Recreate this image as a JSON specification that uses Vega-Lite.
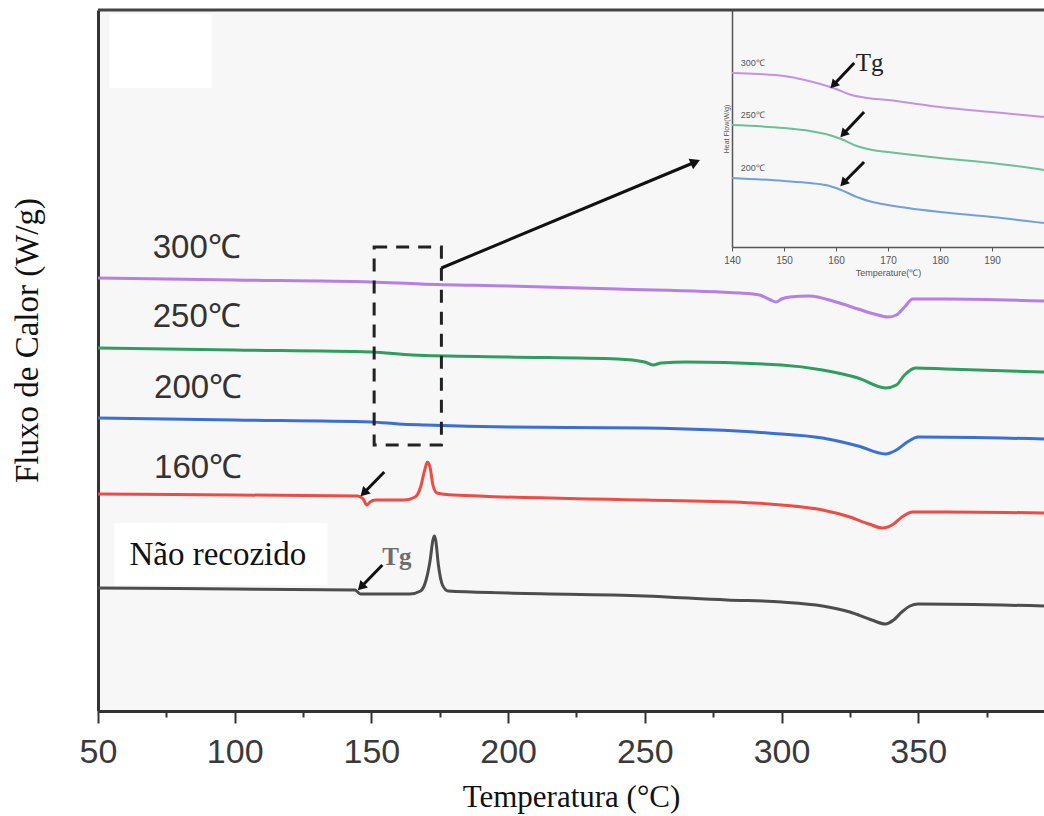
{
  "$schema": "https://vega.github.io/schema/vega-lite/v6.json",
  "width": 946,
  "height": 701,
  "autosize": {"type": "none"},
  "padding": {"left": 98, "top": 10, "right": 0, "bottom": 105},
  "background": "white",
  "config": {"view": {"stroke": null, "fill": "#f7f7f7"}},
  "datasets": {
    "main": [
      {"T": 50, "v": 1.23, "s": "Não recozido"}, {"T": 100, "v": 1.22, "s": "Não recozido"}, {"T": 144, "v": 1.21, "s": "Não recozido"},
      {"T": 146, "v": 1.17, "s": "Não recozido"}, {"T": 150, "v": 1.17, "s": "Não recozido"}, {"T": 164, "v": 1.17, "s": "Não recozido"},
      {"T": 168, "v": 1.2, "s": "Não recozido"}, {"T": 170, "v": 1.31, "s": "Não recozido"}, {"T": 171.5, "v": 1.51, "s": "Não recozido"},
      {"T": 172.5, "v": 1.71, "s": "Não recozido"}, {"T": 173, "v": 1.75, "s": "Não recozido"}, {"T": 173.5, "v": 1.71, "s": "Não recozido"},
      {"T": 174.5, "v": 1.46, "s": "Não recozido"}, {"T": 176, "v": 1.26, "s": "Não recozido"}, {"T": 178, "v": 1.2, "s": "Não recozido"},
      {"T": 200, "v": 1.18, "s": "Não recozido"}, {"T": 250, "v": 1.15, "s": "Não recozido"}, {"T": 280, "v": 1.11, "s": "Não recozido"},
      {"T": 300, "v": 1.09, "s": "Não recozido"}, {"T": 315, "v": 1.05, "s": "Não recozido"}, {"T": 325, "v": 0.99, "s": "Não recozido"},
      {"T": 333, "v": 0.91, "s": "Não recozido"}, {"T": 338, "v": 0.87, "s": "Não recozido"}, {"T": 341, "v": 0.91, "s": "Não recozido"},
      {"T": 344, "v": 0.99, "s": "Não recozido"}, {"T": 347, "v": 1.05, "s": "Não recozido"}, {"T": 350, "v": 1.07, "s": "Não recozido"},
      {"T": 396, "v": 1.05, "s": "Não recozido"},
      {"T": 50, "v": 2.17, "s": "160℃"}, {"T": 100, "v": 2.16, "s": "160℃"}, {"T": 145, "v": 2.15, "s": "160℃"},
      {"T": 147, "v": 2.12, "s": "160℃"}, {"T": 148.3, "v": 2.06, "s": "160℃"}, {"T": 149.5, "v": 2.09, "s": "160℃"},
      {"T": 151.5, "v": 2.11, "s": "160℃"}, {"T": 162, "v": 2.11, "s": "160℃"}, {"T": 166, "v": 2.14, "s": "160℃"},
      {"T": 168, "v": 2.24, "s": "160℃"}, {"T": 169.5, "v": 2.41, "s": "160℃"}, {"T": 170.5, "v": 2.49, "s": "160℃"},
      {"T": 171.5, "v": 2.43, "s": "160℃"}, {"T": 172.5, "v": 2.26, "s": "160℃"}, {"T": 174, "v": 2.18, "s": "160℃"},
      {"T": 180, "v": 2.16, "s": "160℃"}, {"T": 250, "v": 2.11, "s": "160℃"}, {"T": 290, "v": 2.08, "s": "160℃"},
      {"T": 300, "v": 2.06, "s": "160℃"}, {"T": 315, "v": 2.01, "s": "160℃"}, {"T": 325, "v": 1.94, "s": "160℃"},
      {"T": 332, "v": 1.87, "s": "160℃"}, {"T": 337, "v": 1.83, "s": "160℃"}, {"T": 341, "v": 1.87, "s": "160℃"},
      {"T": 344, "v": 1.94, "s": "160℃"}, {"T": 348, "v": 1.99, "s": "160℃"}, {"T": 360, "v": 1.99, "s": "160℃"},
      {"T": 396, "v": 1.98, "s": "160℃"},
      {"T": 50, "v": 2.93, "s": "200℃"}, {"T": 100, "v": 2.91, "s": "200℃"}, {"T": 150, "v": 2.89, "s": "200℃"},
      {"T": 160, "v": 2.87, "s": "200℃"}, {"T": 170, "v": 2.86, "s": "200℃"}, {"T": 200, "v": 2.84, "s": "200℃"},
      {"T": 250, "v": 2.83, "s": "200℃"}, {"T": 295, "v": 2.78, "s": "200℃"}, {"T": 315, "v": 2.73, "s": "200℃"},
      {"T": 328, "v": 2.65, "s": "200℃"}, {"T": 338, "v": 2.57, "s": "200℃"}, {"T": 342, "v": 2.61, "s": "200℃"},
      {"T": 346, "v": 2.69, "s": "200℃"}, {"T": 350, "v": 2.74, "s": "200℃"}, {"T": 396, "v": 2.72, "s": "200℃"},
      {"T": 50, "v": 3.63, "s": "250℃"}, {"T": 100, "v": 3.61, "s": "250℃"}, {"T": 150, "v": 3.59, "s": "250℃"},
      {"T": 165, "v": 3.56, "s": "250℃"}, {"T": 200, "v": 3.54, "s": "250℃"}, {"T": 240, "v": 3.52, "s": "250℃"},
      {"T": 250, "v": 3.49, "s": "250℃"}, {"T": 253, "v": 3.46, "s": "250℃"}, {"T": 256, "v": 3.48, "s": "250℃"},
      {"T": 265, "v": 3.49, "s": "250℃"}, {"T": 300, "v": 3.46, "s": "250℃"}, {"T": 315, "v": 3.41, "s": "250℃"},
      {"T": 328, "v": 3.33, "s": "250℃"}, {"T": 338, "v": 3.23, "s": "250℃"}, {"T": 342, "v": 3.26, "s": "250℃"},
      {"T": 345, "v": 3.36, "s": "250℃"}, {"T": 349, "v": 3.43, "s": "250℃"}, {"T": 360, "v": 3.42, "s": "250℃"},
      {"T": 396, "v": 3.39, "s": "250℃"},
      {"T": 50, "v": 4.33, "s": "300℃"}, {"T": 100, "v": 4.31, "s": "300℃"}, {"T": 150, "v": 4.29, "s": "300℃"},
      {"T": 168, "v": 4.27, "s": "300℃"}, {"T": 200, "v": 4.25, "s": "300℃"}, {"T": 240, "v": 4.22, "s": "300℃"},
      {"T": 285, "v": 4.18, "s": "300℃"}, {"T": 292, "v": 4.16, "s": "300℃"}, {"T": 296, "v": 4.11, "s": "300℃"},
      {"T": 298, "v": 4.09, "s": "300℃"}, {"T": 300, "v": 4.12, "s": "300℃"}, {"T": 303, "v": 4.14, "s": "300℃"},
      {"T": 310, "v": 4.15, "s": "300℃"}, {"T": 320, "v": 4.09, "s": "300℃"}, {"T": 328, "v": 4.02, "s": "300℃"},
      {"T": 334, "v": 3.97, "s": "300℃"}, {"T": 339, "v": 3.94, "s": "300℃"}, {"T": 342, "v": 3.96, "s": "300℃"},
      {"T": 345, "v": 4.04, "s": "300℃"}, {"T": 348, "v": 4.12, "s": "300℃"}, {"T": 360, "v": 4.12, "s": "300℃"},
      {"T": 396, "v": 4.1, "s": "300℃"}
    ],
    "inset": [
      {"T": 140, "v": 1.74, "s": "300℃"}, {"T": 145, "v": 1.73, "s": "300℃"}, {"T": 150, "v": 1.71, "s": "300℃"},
      {"T": 154, "v": 1.67, "s": "300℃"}, {"T": 157, "v": 1.63, "s": "300℃"}, {"T": 160, "v": 1.58, "s": "300℃"},
      {"T": 163, "v": 1.52, "s": "300℃"}, {"T": 166, "v": 1.49, "s": "300℃"}, {"T": 170, "v": 1.47, "s": "300℃"},
      {"T": 180, "v": 1.4, "s": "300℃"}, {"T": 190, "v": 1.35, "s": "300℃"}, {"T": 200, "v": 1.3, "s": "300℃"},
      {"T": 140, "v": 1.22, "s": "250℃"}, {"T": 150, "v": 1.19, "s": "250℃"}, {"T": 155, "v": 1.16, "s": "250℃"},
      {"T": 158, "v": 1.13, "s": "250℃"}, {"T": 161, "v": 1.08, "s": "250℃"}, {"T": 164, "v": 1.01, "s": "250℃"},
      {"T": 167, "v": 0.97, "s": "250℃"}, {"T": 170, "v": 0.95, "s": "250℃"}, {"T": 180, "v": 0.89, "s": "250℃"},
      {"T": 190, "v": 0.84, "s": "250℃"}, {"T": 200, "v": 0.77, "s": "250℃"},
      {"T": 140, "v": 0.69, "s": "200℃"}, {"T": 150, "v": 0.66, "s": "200℃"}, {"T": 155, "v": 0.64, "s": "200℃"},
      {"T": 158, "v": 0.62, "s": "200℃"}, {"T": 161, "v": 0.57, "s": "200℃"}, {"T": 164, "v": 0.5, "s": "200℃"},
      {"T": 167, "v": 0.45, "s": "200℃"}, {"T": 170, "v": 0.42, "s": "200℃"}, {"T": 180, "v": 0.35, "s": "200℃"},
      {"T": 190, "v": 0.3, "s": "200℃"}, {"T": 200, "v": 0.24, "s": "200℃"}
    ],
    "mainLabels": [
      {"T": 70, "v": 4.63, "text": "300℃"},
      {"T": 70, "v": 3.94, "text": "250℃"},
      {"T": 70.5, "v": 3.23, "text": "200℃"},
      {"T": 70.5, "v": 2.43, "text": "160℃"}
    ],
    "whiteBoxes": [
      {"T": 56, "T2": 133.9, "v": 1.88, "v2": 1.26},
      {"T": 54.2, "T2": 91.6, "v": 6.97, "v2": 6.23}
    ],
    "zoomBox": [{"T": 151, "T2": 175.6, "v": 4.64, "v2": 2.66}],
    "mainArrows": [
      {"kind": "tg", "T": 154.0, "v": 1.46, "T2": 146.2, "v2": 1.24},
      {"kind": "tg", "T": 154.7, "v": 2.39, "T2": 147.2, "v2": 2.18},
      {"kind": "zoom", "T": 175.6, "v": 4.43, "T2": 268.5, "v2": 5.49}
    ],
    "insetLabels": [
      {"T": 141.7, "v": 1.84, "text": "300℃"},
      {"T": 141.7, "v": 1.32, "text": "250℃"},
      {"T": 141.7, "v": 0.79, "text": "200℃"}
    ],
    "insetArrows": [
      {"T": 163.5, "v": 1.84, "T2": 159.5, "v2": 1.62},
      {"T": 165.4, "v": 1.35, "T2": 161.4, "v2": 1.13},
      {"T": 165.4, "v": 0.85, "T2": 161.4, "v2": 0.64}
    ]
  },
  "resolve": {"scale": {"x": "independent", "y": "independent", "color": "independent"}},
  "layer": [
    {
      "layer": [
        {
          "data": {"name": "whiteBoxes"},
          "mark": {"type": "rect", "fill": "white"},
          "encoding": {
            "x": {"field": "T", "type": "quantitative"},
            "x2": {"field": "T2"},
            "y": {"field": "v", "type": "quantitative"},
            "y2": {"field": "v2"}
          }
        },
        {
          "data": {"name": "main"},
          "mark": {"type": "line", "strokeWidth": 3, "interpolate": "monotone"},
          "encoding": {
            "x": {
              "field": "T", "type": "quantitative",
              "scale": {"domain": [50, 396], "nice": false, "zero": false},
              "axis": {
                "title": "Temperatura (°C)", "values": [50, 100, 150, 200, 250, 300, 350],
                "grid": false, "labelFlush": false, "domainColor": "#333", "domainWidth": 3,
                "tickColor": "#333", "tickWidth": 2, "tickSize": 12,
                "labelFont": "Liberation Sans", "labelFontSize": 34, "labelColor": "#3a3a3a", "labelPadding": 12,
                "titleFont": "Liberation Serif", "titleFontSize": 31, "titleFontWeight": "normal", "titleColor": "#111", "titlePadding": 13
              }
            },
            "y": {
              "field": "v", "type": "quantitative",
              "scale": {"domain": [0, 7.01], "nice": false, "zero": false},
              "axis": {
                "title": "Fluxo de Calor (W/g)", "grid": false, "ticks": false, "labels": false,
                "domainColor": "#333", "domainWidth": 3,
                "titleFont": "Liberation Serif", "titleFontSize": 33, "titleFontWeight": "normal", "titleColor": "#111",
                "titleX": -54, "titleY": 330
              }
            },
            "color": {
              "field": "s", "type": "nominal", "legend": null,
              "scale": {"domain": ["Não recozido", "160℃", "200℃", "250℃", "300℃"], "range": ["#4d4d4d", "#f04a45", "#3a6fd8", "#2e9e5e", "#b77ee6"]}
            },
            "detail": {"field": "s"}
          }
        },
        {
          "data": {"values": [{}]},
          "mark": {"type": "rule", "color": "#444", "strokeWidth": 3},
          "encoding": {"y": {"datum": 7.01}}
        },
        {
          "data": {"name": "mainLabels"},
          "mark": {"type": "text", "align": "left", "baseline": "middle", "font": "Liberation Sans", "fontSize": 33, "color": "#333"},
          "encoding": {
            "x": {"field": "T", "type": "quantitative"},
            "y": {"field": "v", "type": "quantitative"},
            "text": {"field": "text"}
          }
        },
        {
          "data": {"values": [{"T": 61.5, "v": 1.56, "text": "Não recozido"}]},
          "mark": {"type": "text", "align": "left", "baseline": "middle", "font": "Liberation Serif", "fontSize": 33, "color": "#111"},
          "encoding": {
            "x": {"field": "T", "type": "quantitative"},
            "y": {"field": "v", "type": "quantitative"},
            "text": {"field": "text"}
          }
        },
        {
          "data": {"values": [{"T": 154.0, "v": 1.54, "text": "Tg"}]},
          "mark": {"type": "text", "align": "left", "baseline": "middle", "font": "Liberation Serif", "fontSize": 25, "fontWeight": "bold", "color": "#6e6e6e"},
          "encoding": {
            "x": {"field": "T", "type": "quantitative"},
            "y": {"field": "v", "type": "quantitative"},
            "text": {"field": "text"}
          }
        },
        {
          "data": {"name": "zoomBox"},
          "mark": {"type": "rect", "fill": null, "stroke": "#222", "strokeWidth": 3, "strokeDash": [13, 9]},
          "encoding": {
            "x": {"field": "T", "type": "quantitative"},
            "x2": {"field": "T2"},
            "y": {"field": "v", "type": "quantitative"},
            "y2": {"field": "v2"}
          }
        },
        {
          "data": {"name": "mainArrows"},
          "mark": {"type": "rule", "color": "#111", "strokeWidth": 3},
          "encoding": {
            "x": {"field": "T", "type": "quantitative"},
            "x2": {"field": "T2"},
            "y": {"field": "v", "type": "quantitative"},
            "y2": {"field": "v2"}
          }
        },
        {
          "data": {"name": "mainArrows"},
          "transform": [{"filter": "datum.kind === 'tg'"}],
          "mark": {"type": "point", "shape": "triangle-up", "angle": 224, "filled": true, "color": "#111", "size": 110, "opacity": 1},
          "encoding": {
            "x": {"field": "T2", "type": "quantitative"},
            "y": {"field": "v2", "type": "quantitative"}
          }
        },
        {
          "data": {"name": "mainArrows"},
          "transform": [{"filter": "datum.kind === 'zoom'"}],
          "mark": {"type": "point", "shape": "triangle-up", "angle": 67, "filled": true, "color": "#111", "size": 130, "opacity": 1},
          "encoding": {
            "x": {"field": "T2", "type": "quantitative"},
            "y": {"field": "v2", "type": "quantitative"}
          }
        }
      ]
    },
    {
      "layer": [
        {
          "data": {"name": "inset"},
          "mark": {"type": "line", "strokeWidth": 2, "interpolate": "monotone"},
          "encoding": {
            "x": {
              "field": "T", "type": "quantitative",
              "scale": {"domain": [140, 200], "range": [634, 946], "nice": false, "zero": false},
              "axis": {
                "orient": "bottom", "offset": -464, "title": "Temperature(℃)",
                "values": [140, 150, 160, 170, 180, 190], "grid": false, "labelFlush": false,
                "domainColor": "#555", "domainWidth": 1.5, "tickColor": "#555", "tickSize": 4,
                "labelFont": "Liberation Sans", "labelFontSize": 10, "labelColor": "#555", "labelPadding": 4,
                "titleFont": "Liberation Sans", "titleFontSize": 9, "titleFontWeight": "normal", "titleColor": "#555", "titlePadding": 3
              }
            },
            "y": {
              "field": "v", "type": "quantitative",
              "scale": {"domain": [0, 2.37], "range": [237, 0], "nice": false, "zero": false},
              "axis": {
                "orient": "left", "offset": -634, "title": "Heat Flow(W/g)", "grid": false,
                "ticks": false, "labels": false, "domainColor": "#555", "domainWidth": 1.5,
                "titleFont": "Liberation Sans", "titleFontSize": 7, "titleFontWeight": "normal", "titleColor": "#555", "titlePadding": 3
              }
            },
            "color": {
              "field": "s", "type": "nominal", "legend": null,
              "scale": {"domain": ["200℃", "250℃", "300℃"], "range": ["#6f9fe0", "#6cbf98", "#c591e4"]}
            },
            "detail": {"field": "s"}
          }
        },
        {
          "data": {"name": "insetLabels"},
          "mark": {"type": "text", "align": "left", "baseline": "middle", "font": "Liberation Sans", "fontSize": 9, "color": "#555"},
          "encoding": {
            "x": {"field": "T", "type": "quantitative"},
            "y": {"field": "v", "type": "quantitative"},
            "text": {"field": "text"}
          }
        },
        {
          "data": {"values": [{"T": 163.8, "v": 1.84, "text": "Tg"}]},
          "mark": {"type": "text", "align": "left", "baseline": "middle", "font": "Liberation Serif", "fontSize": 25, "color": "#222"},
          "encoding": {
            "x": {"field": "T", "type": "quantitative"},
            "y": {"field": "v", "type": "quantitative"},
            "text": {"field": "text"}
          }
        },
        {
          "data": {"name": "insetArrows"},
          "mark": {"type": "rule", "color": "#111", "strokeWidth": 3},
          "encoding": {
            "x": {"field": "T", "type": "quantitative"},
            "x2": {"field": "T2"},
            "y": {"field": "v", "type": "quantitative"},
            "y2": {"field": "v2"}
          }
        },
        {
          "data": {"name": "insetArrows"},
          "mark": {"type": "point", "shape": "triangle-up", "angle": 223, "filled": true, "color": "#111", "size": 100, "opacity": 1},
          "encoding": {
            "x": {"field": "T2", "type": "quantitative"},
            "y": {"field": "v2", "type": "quantitative"}
          }
        }
      ]
    },
    {
      "data": {"values": [{"T": 50}, {"T": 396}]},
      "mark": {"type": "point", "opacity": 0},
      "encoding": {
        "x": {
          "field": "T", "type": "quantitative",
          "scale": {"domain": [50, 396], "nice": false, "zero": false},
          "axis": {
            "orient": "bottom", "title": null, "labels": false, "domain": false, "grid": false,
            "values": [75, 125, 175, 225, 275, 325, 375],
            "tickColor": "#333", "tickWidth": 2, "tickSize": 6
          }
        }
      }
    }
  ]
}
